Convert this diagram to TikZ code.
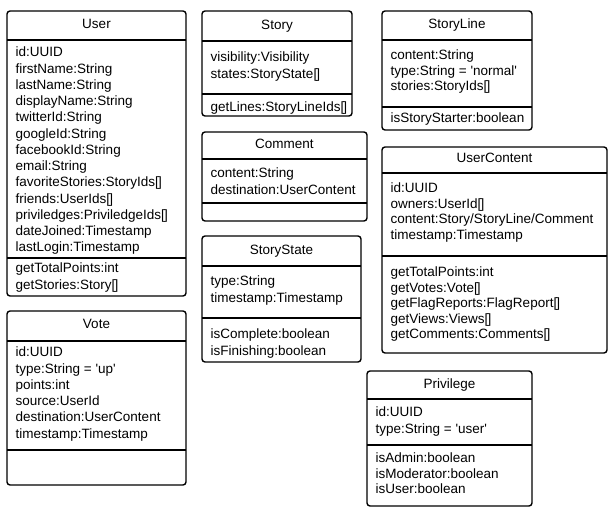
\documentclass[tikz,border=0pt]{standalone}
\usepackage{fontspec}
\setmainfont{Liberation Sans}
\usetikzlibrary{positioning}

\begin{document}
\begin{tikzpicture}[x=1pt, y=-1pt,
    box/.style={draw, line width=1.4pt, rounded corners=3pt},
    sep/.style={draw, line width=1.4pt},
    title/.style={anchor=base, inner sep=0pt, font=\fontsize{13.5}{16.25}\selectfont},
    attrs/.style={anchor=north west, align=left, inner sep=0pt, font=\fontsize{13.5}{16.25}\selectfont}]
                        \useasboundingbox (0, 0) rectangle (614, 511);

                        % User
                        \draw[box] (7, 11) rectangle (186, 296);
                        \draw[sep] (7, 40) -- (186, 40) (7, 258) -- (186, 258);
                        \node[title] (user) at (96.5, 29) {User};
                        \node[attrs] (user-attrs) at (15.5, 47) {id:UUID\\firstName:String\\lastName:String\\displayName:String\\twitterId:String\\googleId:String\\facebookId:String\\email:String\\favoriteStories:StoryIds[\kern-0.8pt]\\friends:UserIds[\kern-0.8pt]\\priviledges:PriviledgeIds[\kern-0.8pt]\\dateJoined:Timestamp\\lastLogin:Timestamp};
                        \node[attrs] (user-ops) at (15.5, 263) {getTotalPoints:int\\getStories:Story[\kern-0.8pt]};

                        % Vote
                        \draw[box] (7, 311) rectangle (186, 485);
                        \draw[sep] (7, 341) -- (186, 341) (7, 450) -- (186, 450);
                        \node[title] (vote) at (96.5, 328.7) {Vote};
                        \node[attrs] (vote-attrs) at (15.5, 347) {id:UUID\\type:String = \textquotesingle up\textquotesingle\\points:int\\source:UserId\\destination:UserContent\\timestamp:Timestamp};

                        % Story
                        \draw[box] (202, 11) rectangle (352, 116);
                        \draw[sep] (202, 41) -- (352, 41) (202, 94) -- (352, 94);
                        \node[title] (story) at (277, 29.7) {Story};
                        \node[attrs] (story-attrs) at (210.5, 52) {visibility:Visibility\\states:StoryState[\kern-0.8pt]};
                        \node[attrs] (story-ops) at (210.5, 102) {getLines:StoryLineIds[\kern-0.8pt]};

                        % Comment
                        \draw[box] (202, 132) rectangle (367, 221);
                        \draw[sep] (202, 159) -- (367, 159) (202, 203) -- (367, 203);
                        \node[title] (comment) at (284.5, 148.7) {Comment};
                        \node[attrs] (comment-attrs) at (210.5, 168) {content:String\\destination:UserContent};

                        % StoryState
                        \draw[box] (202, 236) rectangle (361, 362);
                        \draw[sep] (202, 266) -- (361, 266) (202, 318) -- (361, 318);
                        \node[title] (storystate) at (281.5, 254) {StoryState};
                        \node[attrs] (storystate-attrs) at (210.5, 276) {type:String\\timestamp:Timestamp};
                        \node[attrs] (storystate-ops) at (210.5, 329) {isComplete:boolean\\isFinishing:boolean};

                        % StoryLine
                        \draw[box] (382, 11) rectangle (532, 130);
                        \draw[sep] (382, 40) -- (532, 40) (382, 107) -- (532, 107);
                        \node[title] (storyline) at (457, 28.7) {StoryLine};
                        \node[attrs, font=\fontsize{13.5}{15.5}\selectfont] (storyline-attrs) at (390.5, 50) {content:String\\type:String = \textquotesingle normal\textquotesingle\\stories:StoryIds[\kern-0.8pt]};
                        \node[attrs] (storyline-ops) at (390.5, 113) {isStoryStarter:boolean};

                        % UserContent
                        \draw[box] (382, 147) rectangle (607, 353);
                        \draw[sep] (382, 173) -- (607, 173) (382, 256) -- (607, 256);
                        \node[title] (usercontent) at (494.5, 163) {UserContent};
                        \node[attrs, font=\fontsize{13.5}{15.4}\selectfont] (usercontent-attrs) at (390.5, 183) {id:UUID\\owners:UserId[\kern-0.8pt]\\content:Story/StoryLine/Comment\\timestamp:Timestamp};
                        \node[attrs, font=\fontsize{13.5}{15.4}\selectfont] (usercontent-ops) at (390.5, 267) {getTotalPoints:int\\getVotes:Vote[\kern-0.8pt]\\getFlagReports:FlagReport[\kern-0.8pt]\\getViews:Views[\kern-0.8pt]\\getComments:Comments[\kern-0.8pt]};

                        % Privilege
                        \draw[box] (367, 371) rectangle (532, 506);
                        \draw[sep] (367, 399) -- (532, 399) (367, 445) -- (532, 445);
                        \node[title] (privilege) at (449.5, 388.7) {Privilege};
                        \node[attrs] (privilege-attrs) at (375.5, 407) {id:UUID\\type:String = \textquotesingle user\textquotesingle};
                        \node[attrs, font=\fontsize{13.5}{15.2}\selectfont] (privilege-ops) at (375.5, 453) {isAdmin:boolean\\isModerator:boolean\\isUser:boolean};
                    \end{tikzpicture}
\end{document}
